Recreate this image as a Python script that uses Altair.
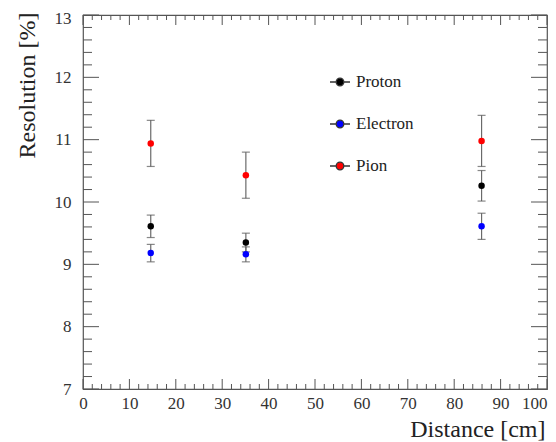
import altair as alt
import pandas as pd

# ---- data ----
distance = [14.6, 35.1, 85.9]
proton = [9.61, 9.35, 10.26]
proton_err = [0.18, 0.15, 0.245]
electron = [9.18, 9.16, 9.61]
electron_err = [0.14, 0.12, 0.21]
pion = [10.94, 10.43, 10.98]
pion_err = [0.37, 0.37, 0.41]

series = ["Proton", "Electron", "Pion"]
colors = ["#000000", "#0000ff", "#ff0000"]

x_major = [0, 10, 20, 30, 40, 50, 60, 70, 80, 90, 100]
x_minor = [v for v in range(0, 101, 2) if v % 10 != 0]
y_major = [7, 8, 9, 10, 11, 12, 13]
y_minor = [round(7 + 0.2 * i, 1) for i in range(31) if i % 5 != 0]

rows = []
for name, vals, errs in [("Proton", proton, proton_err),
                         ("Electron", electron, electron_err),
                         ("Pion", pion, pion_err)]:
    for d, v, e in zip(distance, vals, errs):
        rows.append({"series": name, "distance": d, "res": v,
                     "lo": v - e, "hi": v + e})
df = pd.DataFrame(rows)

W, H = 464, 374
FONT = "Liberation Serif"
AX = "#555555"

xscale = alt.Scale(domain=[0, 100], nice=False, zero=False)
yscale = alt.Scale(domain=[7, 13], nice=False, zero=False)

xaxis = alt.Axis(values=x_major, ticks=False, domain=False, grid=False,
                 format="d",
                 labelFont=FONT, labelFontSize=17, labelColor="#333333",
                 labelPadding=6, labelFlush=False,
                 labelAlign=alt.condition("datum.value == 100",
                                          alt.value("right"),
                                          alt.value("center")),
                 title="Distance [cm]", titleFont=FONT, titleFontSize=24,
                 titleFontWeight="normal", titleColor="#222222",
                 titleAnchor="end", titleAlign="right", titleX=W - 2,
                 titleY=47, titleBaseline="alphabetic")
yaxis = alt.Axis(values=y_major, ticks=False, domain=False, grid=False,
                 format="d",
                 labelFont=FONT, labelFontSize=17, labelColor="#333333",
                 labelPadding=12,
                 labelOffset=alt.condition("datum.value == 13",
                                           alt.value(3), alt.value(0)),
                 title="Resolution [%]", titleFont=FONT, titleFontSize=24,
                 titleFontWeight="normal", titleColor="#222222",
                 titleAnchor="end", titleAlign="right", titleAngle=-90,
                 titleX=-49, titleY=-3, titleBaseline="alphabetic")

base = alt.Chart(df)

bars = base.mark_rule(color="#6a6a6a", strokeWidth=1.2).encode(
    x=alt.X("distance:Q", scale=xscale, axis=xaxis),
    y=alt.Y("lo:Q", scale=yscale, axis=yaxis),
    y2="hi:Q",
)
caps_lo = base.mark_tick(color="#555555", orient="horizontal", size=8,
                         thickness=1.2).encode(
    x="distance:Q", y="lo:Q")
caps_hi = base.mark_tick(color="#555555", orient="horizontal", size=8,
                         thickness=1.2).encode(
    x="distance:Q", y="hi:Q")

legend = alt.Legend(
    title=None, orient="none", legendX=246, legendY=56,
    symbolType="M-1,0L-0.38,0M0.38,0L1,0M-0.38,0A0.38,0.38,0,1,0,0.38,0A0.38,0.38,0,1,0,-0.38,0Z",
    symbolSize=400, symbolStrokeColor="#333333", symbolStrokeWidth=1.3,
    labelFont=FONT, labelFontSize=17, labelColor="#222222",
    labelOffset=5, rowPadding=23, padding=0,
)
points = base.mark_circle(size=42, opacity=1).encode(
    x="distance:Q",
    y="res:Q",
    color=alt.Color("series:N", scale=alt.Scale(domain=series, range=colors),
                    sort=series, legend=legend),
)

xt = pd.DataFrame({"v": x_major})
xm = pd.DataFrame({"v": x_minor})
yt = pd.DataFrame({"v": y_major})
ym = pd.DataFrame({"v": y_minor})


def xticks(data, length):
    b = alt.Chart(data).mark_rule(color=AX, strokeWidth=1)
    bottom = b.encode(x=alt.X("v:Q", scale=xscale),
                      y=alt.value(H), y2=alt.value(H - length))
    top = b.encode(x=alt.X("v:Q", scale=xscale),
                   y=alt.value(0), y2=alt.value(length))
    return bottom + top


def yticks(data, length):
    b = alt.Chart(data).mark_rule(color=AX, strokeWidth=1)
    left = b.encode(y=alt.Y("v:Q", scale=yscale),
                    x=alt.value(0), x2=alt.value(length))
    right = b.encode(y=alt.Y("v:Q", scale=yscale),
                     x=alt.value(W), x2=alt.value(W - length))
    return left + right


chart = alt.layer(
    xticks(xt, 10), xticks(xm, 5), yticks(yt, 16), yticks(ym, 9),
    bars, caps_lo, caps_hi, points,
).properties(
    width=W, height=H,
    autosize=alt.AutoSizeParams(type="none"),
    padding={"left": 75, "top": 7, "right": 1, "bottom": 55},
).configure(
    background="white"
).configure_view(
    stroke=AX, strokeWidth=1.2
)

chart.save("out.html", embed_options={"renderer": "svg", "actions": False})
